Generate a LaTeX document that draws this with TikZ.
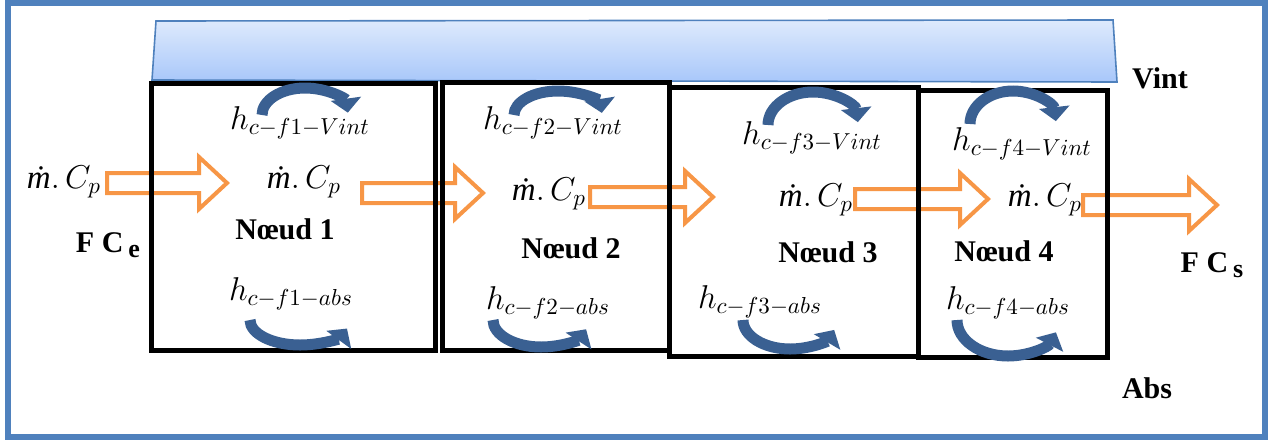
\RequirePackage{fix-cm}
\documentclass[tikz,border=0pt]{standalone}
\usepackage{amsmath}
\usepackage{fontspec}
\setmainfont{Liberation Serif}
\usepackage{xcolor}
\usepackage{tikz}
\usetikzlibrary{arrows.meta,calc}
\definecolor{framecolor}{RGB}{79,129,189}
\definecolor{flowcolor}{RGB}{247,150,70}
\definecolor{heatcolor}{RGB}{58,96,146}
\definecolor{bartop}{RGB}{222,234,252}
\definecolor{barbottom}{RGB}{168,199,250}
\newcommand\fluxarrow[2]{\draw[flowarrow] let \p1=(#1), \p2=(#2) in (\x1,\y1+5pt) -- (\x2-14pt,\y1+5pt) -- (\x2-14pt,\y1+13pt) -- (\x2,\y1) -- (\x2-14pt,\y1-13pt) -- (\x2-14pt,\y1-5pt) -- (\x1,\y1-5pt) -- cycle;}
\newcommand\mcp{$\text{\itshape ṁ}.\,C_p$}

\begin{document}
\begin{tikzpicture}[x=0.5pt,y=0.5pt,every node/.style={inner sep=0pt},
  lbl/.style={font=\fontsize{15}{18}\selectfont\bfseries},
  eq/.style={font=\fontsize{16.5}{19}\selectfont},
  cell/.style={draw=black,line width=2.5pt},
  flowarrow/.style={draw=flowcolor,line width=2pt,fill=white,line join=miter},
  heatarrow/.style={draw=heatcolor,line width=5.5pt,-{Triangle[width=15pt,length=7pt]}}]
\useasboundingbox (0,0) rectangle (1272,441);
% frame and wall
\draw[framecolor,line width=3pt] (8,4) rectangle (1265,438);
\path[draw=framecolor,line width=0.8pt,top color=bartop,bottom color=barbottom] (152,361) -- (156,420) -- (1113,421) -- (1117,359) -- cycle;

% labels
\node[eq](mcp0) at (64,259){\mcp};
\node[eq](mcp1) at (304,259){\mcp};
\node[eq](mcp2) at (549,247){\mcp};
\node[eq](mcp3) at (816,241){\mcp};
\node[eq](mcp4) at (1045,241){\mcp};
\node[eq](hv1) at (300,318){$h_{c-f1-Vint}$};
\node[eq](hv2) at (553,318){$h_{c-f2-Vint}$};
\node[eq](hv3) at (812,303){$h_{c-f3-Vint}$};
\node[eq](hv4) at (1022,297){$h_{c-f4-Vint}$};
\node[eq](ha1) at (291,147){$h_{c-f1-abs}$};
\node[eq](ha2) at (548,138){$h_{c-f2-abs}$};
\node[eq](ha3) at (760,139){$h_{c-f3-abs}$};
\node[eq](ha4) at (1008,138){$h_{c-f4-abs}$};
\node[lbl](n1) at (285,212){Nœud 1};
\node[lbl](n2) at (571,193){Nœud 2};
\node[lbl](n3) at (828,189){Nœud 3};
\node[lbl](n4) at (1004,190){Nœud 4};
\node[lbl](fce) at (108,196){F C\,\raisebox{-2.5pt}{\fontsize{13}{15}\selectfont e}};
\node[lbl](fcs) at (1212,176){F C\,\raisebox{-2.5pt}{\fontsize{13}{15}\selectfont s}};
\node[lbl](vint) at (1160,363){Vint};
\node[lbl](abs) at (1147,53){Abs};

% mass flow arrows
\coordinate (a1s) at (107,258); \coordinate (a1e) at (227,258);
\coordinate (a2s) at (362,248); \coordinate (a2e) at (483,248);
\coordinate (a3s) at (590,244); \coordinate (a3e) at (713,244);
\coordinate (a4s) at (855,242); \coordinate (a4e) at (988,242);
\coordinate (a5s) at (1083,236); \coordinate (a5e) at (1217,236);
\fluxarrow{a1s}{a1e} \fluxarrow{a2s}{a2e} \fluxarrow{a3s}{a3e} \fluxarrow{a4s}{a4e} \fluxarrow{a5s}{a5e}

% nodes
\draw[cell] (151,91) rectangle (435,358);
\draw[cell] (442,91) rectangle (669,359);
\draw[cell] (669,85) rectangle (918,354);
\draw[cell] (918,84) rectangle (1107,351);

% exchanges
\draw[heatarrow] (262,326) arc[start angle=180,end angle=5,x radius=43,y radius=27];
\draw[heatarrow] (514,326) arc[start angle=180,end angle=5,x radius=44,y radius=24];
\draw[heatarrow] (768,316) arc[start angle=180,end angle=5,x radius=45,y radius=33];
\draw[heatarrow] (970,317) arc[start angle=180,end angle=5,x radius=43,y radius=33];
\draw[heatarrow] (250,121) arc[start angle=180,end angle=340,x radius=50,y radius=25];
\draw[heatarrow] (493,121) arc[start angle=180,end angle=340,x radius=48,y radius=27];
\draw[heatarrow] (743,121) arc[start angle=180,end angle=340,x radius=47,y radius=29];
\draw[heatarrow] (957,121) arc[start angle=180,end angle=340,x radius=51,y radius=36];
\end{tikzpicture}
\end{document}
